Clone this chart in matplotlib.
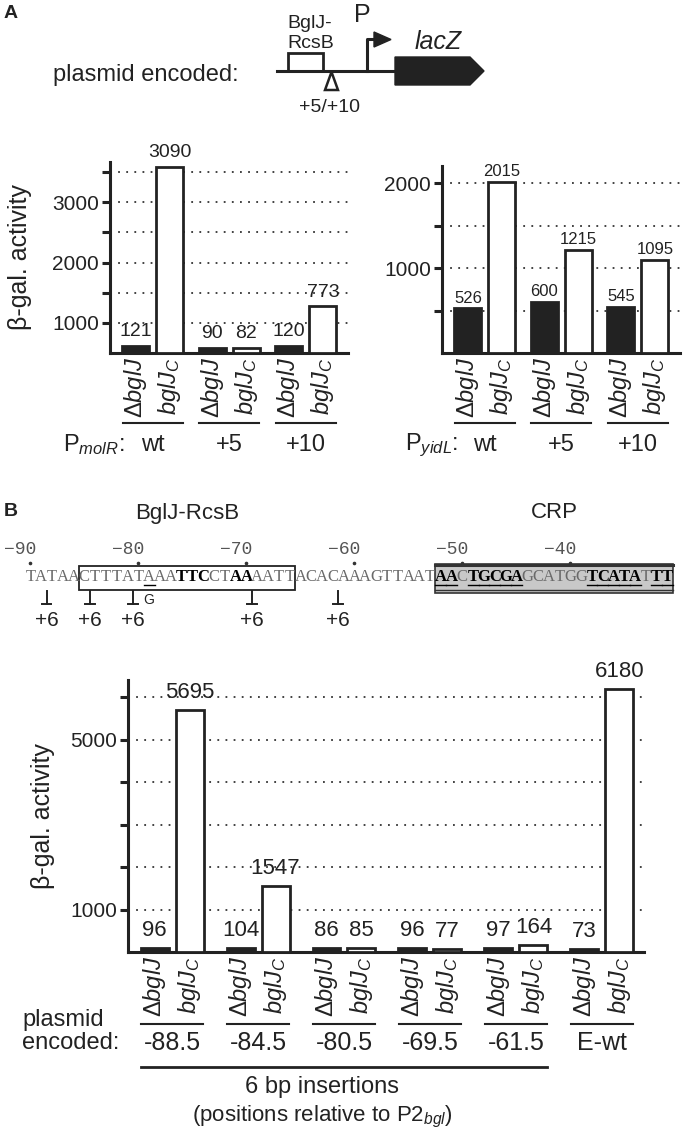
import numpy as np
import matplotlib
matplotlib.use('Agg')
import matplotlib.pyplot as plt
from matplotlib.patches import Rectangle, Polygon
from matplotlib.ticker import FixedLocator
import matplotlib.transforms as mtrans

# ---------------- data ----------------
strain_labels = [r'$\Delta\mathit{bglJ}$', r'$\mathit{bglJ}_\mathit{C}$']

molR_groups = ['wt', '+5', '+10']
molR_vals = [121, 3090, 90, 82, 120, 773]

yidL_groups = ['wt', '+5', '+10']
yidL_vals = [526, 2015, 600, 1215, 545, 1095]

ins_groups = ['-88.5', '-84.5', '-80.5', '-69.5', '-61.5', 'E-wt']
ins_vals = [96, 5695, 104, 1547, 86, 85, 96, 77, 97, 164, 73, 6180]

seq = 'TATAACTTTATAAATTCCTAAAATTACACAAAGTTAATAACTGCGAGCATGGTCATATTT'
seq_first = -90
seq_bold = [14, 15, 16, 19, 20, 38, 39, 41, 42, 43, 44, 45, 52, 53, 54, 55, 56, 58, 59]
seq_uline = [11, 38, 39, 41, 42, 43, 44, 45, 52, 53, 54, 55, 56, 58, 59]
seq_ticks = [-90, -80, -70, -60, -50, -40]
ins_sites = [-88.5, -84.5, -80.5, -69.5, -61.5]

DARK = '#222222'
W, H = 683, 1137

plt.rcParams.update({
    'font.family': ['Liberation Sans', 'DejaVu Sans'],
    'mathtext.fontset': 'custom',
    'mathtext.rm': 'Liberation Sans',
    'mathtext.it': 'Liberation Sans:italic',
    'mathtext.bf': 'Liberation Sans:bold',
    'text.color': DARK,
    'axes.edgecolor': DARK,
    'xtick.color': DARK,
    'ytick.color': DARK,
})

fig = plt.figure(figsize=(W / 100, H / 100), dpi=100)


def px_axes(x0, y0, x1, y1):
    return fig.add_axes([x0 / W, 1 - y1 / H, (x1 - x0) / W, (y1 - y0) / H])


# overlay in pixel units for the annotations
ov = px_axes(0, 0, W, H)
ov.set_xlim(0, W)
ov.set_ylim(H, 0)
ov.axis('off')

# sequence axes: x in base positions, y in pixels
sq = px_axes(0, 0, W, H)
sq.set_xlim(-92.81, -29.57)
sq.set_ylim(H, 0)
sq.axis('off')


def bar_panel(ax, xs, vals, base, top, xlim, major, minor, vsize, voff):
    cols = [DARK, 'white'] * (len(vals) // 2)
    ax.bar(xs, vals, width=0.8, bottom=base, color=cols, edgecolor=DARK,
           linewidth=2.0, zorder=3)
    for x, v in zip(xs, vals):
        ax.annotate(str(v), (x, v + base), xytext=(0, voff), textcoords='offset points',
                    ha='center', va='bottom', fontsize=vsize, zorder=4)
    ax.set_ylim(base, top)
    ax.set_xlim(*xlim)
    ax.yaxis.set_major_locator(FixedLocator(major))
    ax.yaxis.set_minor_locator(FixedLocator(minor))
    ax.grid(axis='y', which='both', ls=(0, (1, 3.5)), lw=1.3, color='#333333')
    ax.set_axisbelow(True)
    for s in ['top', 'right']:
        ax.spines[s].set_visible(False)
    for s in ['left', 'bottom']:
        ax.spines[s].set_linewidth(2.2)
    ax.tick_params(axis='y', which='both', direction='out', length=6, width=2.2,
                   labelsize=15, pad=2)
    ax.set_xticks(xs, strain_labels * (len(vals) // 2), rotation=90, fontsize=17)
    ax.tick_params(axis='x', length=0, pad=3)
    ax.patch.set_alpha(0)


def group_marks(ax, xs, groups, y_line, y_text, size):
    tr = mtrans.blended_transform_factory(ax.transData, ov.transData)
    for g, name in enumerate(groups):
        a, b = xs[2 * g], xs[2 * g + 1]
        ax.plot([a - 0.38, b + 0.38], [y_line, y_line], transform=tr, clip_on=False,
                color=DARK, lw=1.5)
        ax.text((a + b) / 2, y_text, name, transform=tr, ha='center', va='center',
                fontsize=size)
    return tr


# ---------------- panel A ----------------
ov.text(4, 14, 'A', fontsize=14, weight='bold', ha='left', va='center')
ov.text(53, 75, 'plasmid encoded:', fontsize=17, ha='left', va='center')
ov.plot([277, 395], [71, 71], color=DARK, lw=2.2)
ov.add_patch(Rectangle((288, 53), 35, 18, facecolor='white', edgecolor=DARK, lw=2))
ov.add_patch(Polygon([(331.5, 72), (325, 90), (338, 90)], closed=True,
                     facecolor='white', edgecolor=DARK, lw=1.8))
ov.plot([367, 367, 375], [71, 39, 39], color=DARK, lw=2.2)
ov.add_patch(Polygon([(374, 32), (374, 47), (391, 39.5)], closed=True, color=DARK))
ov.add_patch(Polygon([(395, 57), (470, 57), (484, 71), (470, 85), (395, 85)],
                     closed=True, color=DARK))
ov.text(310, 23, 'BglJ-', fontsize=14, ha='center', va='center')
ov.text(311, 43, 'RcsB', fontsize=14, ha='center', va='center')
ov.text(362, 15, 'P', fontsize=18, ha='center', va='center')
ov.text(438, 42, 'lacZ', fontsize=18, style='italic', ha='center', va='center')
ov.text(330, 107, '+5/+10', fontsize=14, ha='center', va='center')

top_x = np.repeat(np.arange(3) * 2.25, 2) + np.tile([0, 1], 3)

axL = px_axes(110, 162, 348, 353)
bar_panel(axL, top_x, molR_vals, 500, 3667, (-0.76, 6.24),
          [1000, 2000, 3000], [1500, 2500, 3500], 14, 4)
axL.text(-0.378, 0.5, 'β-gal. activity', rotation=90, transform=axL.transAxes,
         ha='center', va='center', fontsize=18)
group_marks(axL, top_x, molR_groups, 423, 445, 17)
ov.text(125, 445, r'P$_{\mathit{molR}}$:', ha='right', va='center', fontsize=17)

axR = px_axes(442, 166, 680, 353)
bar_panel(axR, top_x, yidL_vals, 0, 2200, (-0.76, 6.24),
          [1000, 2000], [500, 1500], 12, 2)
group_marks(axR, top_x, yidL_groups, 423, 445, 17)
ov.text(458, 445, r'P$_{\mathit{yidL}}$:', ha='right', va='center', fontsize=17)

# ---------------- panel B ----------------
ov.text(4, 512, 'B', fontsize=14, weight='bold', ha='left', va='center')

sq.add_patch(Rectangle((-52.5, 564), 22, 29, facecolor='#c8c8c8', edgecolor='#333333',
                       lw=1.2, zorder=1))
sq.plot([-52.5, -30.5], [564.5, 564.5], color='#333333', lw=2.2, zorder=2)
sq.plot([-52.5, -30.5], [590, 590], color='#333333', lw=1.0, zorder=2)
sq.add_patch(Rectangle((-85.5, 566), 20, 24, fill=False, edgecolor=DARK, lw=1.3, zorder=2))
sq.text(-75.5, 513, 'BglJ-RcsB', fontsize=16, ha='center', va='center')
sq.text(-41.5, 513, 'CRP', fontsize=16, ha='center', va='center')

for i, ch in enumerate(seq):
    b = i in seq_bold
    sq.text(seq_first + i, 577, ch, ha='center', va='center', family='Liberation Serif',
            fontsize=12, weight='bold' if b else 'normal',
            color='black' if b else '#6a6a6a', zorder=3)
for i in seq_uline:
    p = seq_first + i
    sq.plot([p - 0.5, p + 0.5], [585, 585], color='black', lw=1.0, zorder=3)

sq.plot(seq_ticks, [563] * len(seq_ticks), 'o', ms=1.6, color='#333333')
for p in seq_ticks:
    sq.text(p + 0.55, 549, '\u2212%d' % abs(p), ha='right', va='center',
            family='Liberation Mono', fontsize=13, color='#555555')

for p in ins_sites:
    sq.plot([p, p], [591, 604], color=DARK, lw=1.4)
    sq.plot([p - 0.45, p + 0.45], [604, 604], color=DARK, lw=1.4)
    sq.text(p, 621, '+6', fontsize=15, ha='center', va='center')
sq.text(-79, 600, 'G', fontsize=10, ha='center', va='center')

bot_x = np.repeat(np.arange(6) * 2.457, 2) + np.tile([0, 1], 6)

axB = px_axes(128, 680, 644, 952)
bar_panel(axB, bot_x, ins_vals, 0, 6400, (-0.76, 13.99),
          [1000, 5000], [2000, 3000, 4000, 6000], 16, 5)
axB.text(-0.165, 0.5, 'β-gal. activity', rotation=90, transform=axB.transAxes,
         ha='center', va='center', fontsize=18)
trB = group_marks(axB, bot_x, ins_groups, 1024, 1043, 18)
axB.plot([bot_x[0] - 0.4, bot_x[9] + 0.4], [1067, 1067], transform=trB, clip_on=False,
         color=DARK, lw=2)
ov.text(22, 1020, 'plasmid', fontsize=17, ha='left', va='center')
ov.text(22, 1043, 'encoded:', fontsize=17, ha='left', va='center')
ov.text(322, 1087, '6 bp insertions', fontsize=17, ha='center', va='center')
ov.text(322, 1117, r'(positions relative to P2$_{\mathit{bgl}}$)', fontsize=16,
        ha='center', va='center')

fig.savefig('out.png', dpi=100)
